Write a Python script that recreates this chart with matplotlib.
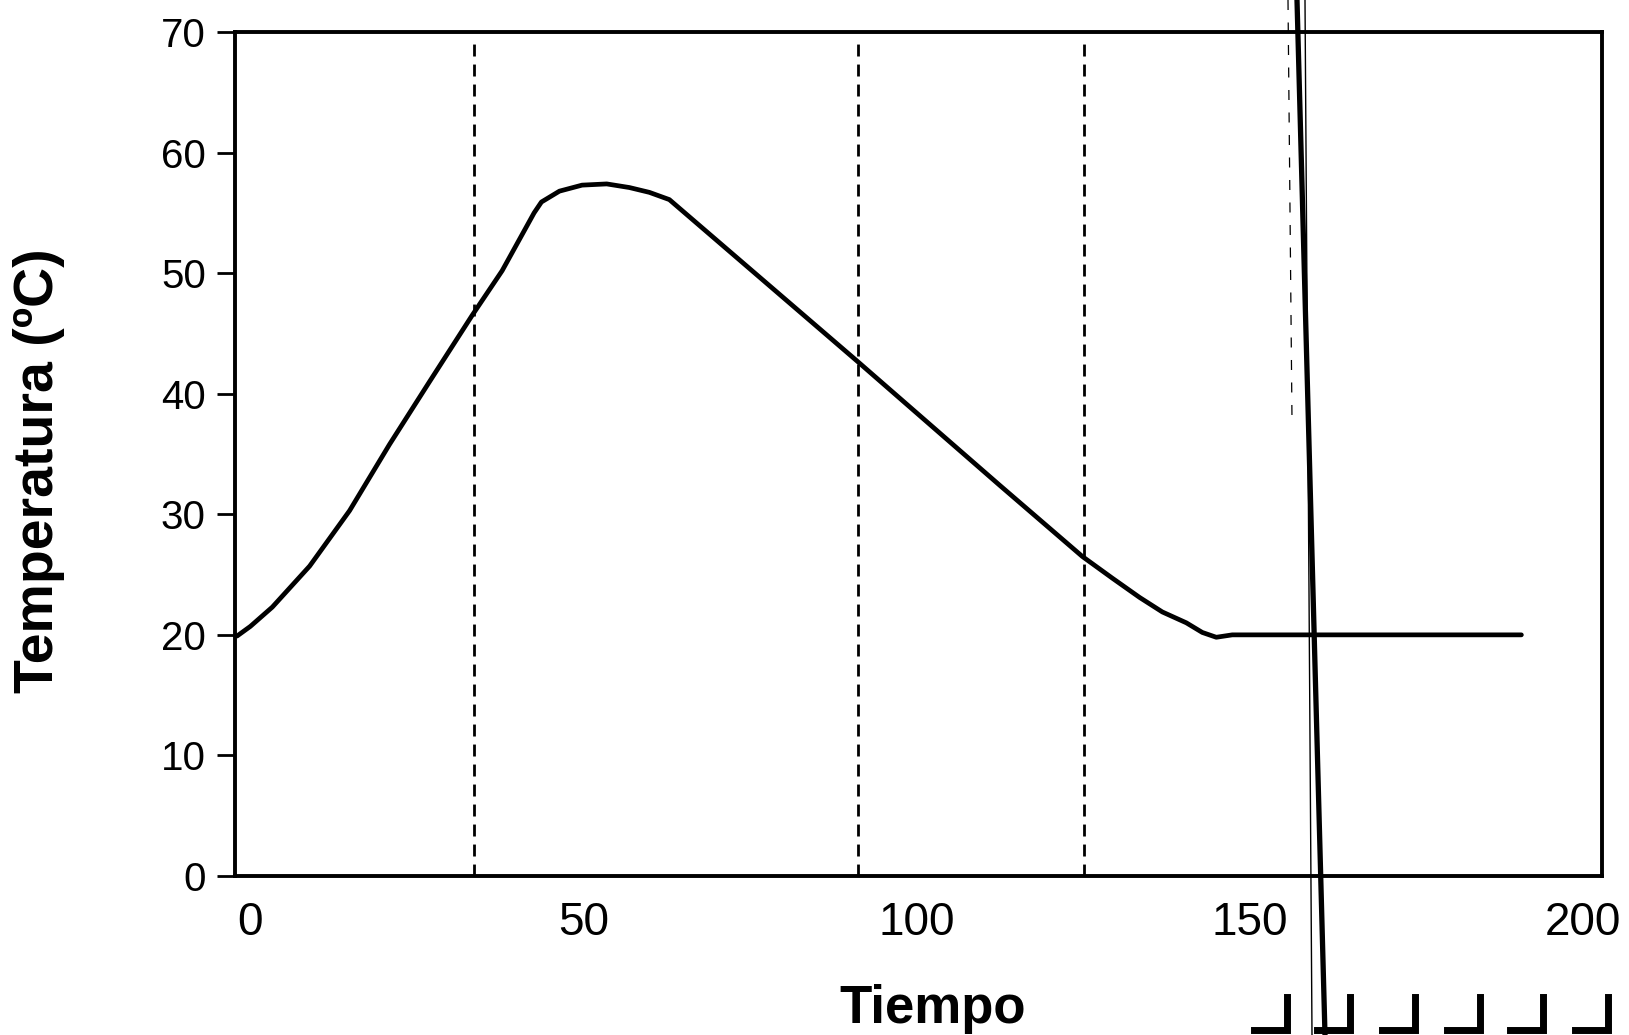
import matplotlib
matplotlib.use("Agg")
import matplotlib.pyplot as plt
from matplotlib.lines import Line2D

plt.rcParams['font.family'] = ['Liberation Sans', 'DejaVu Sans']

# Temperature profile over time
tiempo = [-2.0, 0.0, 3.3, 8.9, 14.9, 20.9, 26.9, 33.3, 37.8, 42.6, 43.7, 46.4,
          49.8, 53.5, 56.9, 59.9, 62.9, 91.1, 112.5, 124.9, 129.4, 133.5,
          136.9, 140.5, 142.9, 145.0, 147.4, 190.8]
temperatura = [19.9, 20.7, 22.3, 25.7, 30.3, 35.8, 41.0, 46.5, 50.2, 55.0, 55.9, 56.8,
               57.3, 57.4, 57.1, 56.7, 56.1, 42.7, 32.4, 26.5, 24.7, 23.1,
               21.9, 21.0, 20.2, 19.8, 20.0, 20.0]

# Phase boundaries (dashed)
fases = [33.6, 91.2, 125.1]

x_ticks = [0, 50, 100, 150, 200]
y_ticks = [0, 10, 20, 30, 40, 50, 60, 70]

W, H = 1629, 1035
fig = plt.figure(figsize=(W / 100, H / 100), dpi=100)
ax = fig.add_axes([235 / W, 1 - 876 / H, (1602 - 235) / W, (876 - 32) / H])

ax.plot(tiempo, temperatura, color='black', lw=3.4, solid_joinstyle='round',
        solid_capstyle='round')
ax.vlines(fases, 0, 69, colors='black', lw=2.0, linestyles=[(0, (4.3, 2.9))])

ax.set_xlim(-2.3, 202.9)
ax.set_ylim(0, 70)
ax.set_xticks(x_ticks)
ax.set_yticks(y_ticks)
ax.tick_params(axis='x', length=0, pad=18, labelsize=33)
ax.tick_params(axis='y', direction='out', length=13, width=2.0, pad=8, labelsize=29)
for s in ax.spines.values():
    s.set_linewidth(2.8)

fig.text(933 / W, 1 - 1023 / H, 'Tiempo', ha='center', va='baseline',
         fontsize=38, fontweight='bold')
fig.text(39 / W, 1 - 471 / H, 'Temperatura (\u00baC)', rotation=90, ha='center',
         va='center', fontsize=40, fontweight='bold')

# Scanner marks crossing the page
fig.add_artist(Line2D([1297 / W, 1325 / W], [1, 0], transform=fig.transFigure,
                      color='black', lw=3.8))
fig.add_artist(Line2D([1305 / W, 1312 / W], [1, 0], transform=fig.transFigure,
                      color='black', lw=1.0))
fig.add_artist(Line2D([1288 / W, 1292 / W], [1, 1 - 420 / H], transform=fig.transFigure,
                      color='black', lw=0.9, linestyle=(0, (8, 10))))

# Corner registration brackets at the bottom edge
esquinas = [1287, 1350, 1415, 1480, 1543, 1608]
for xr in esquinas:
    fig.add_artist(Line2D([(xr - 33) / W, xr / W, xr / W],
                          [1 - 1030 / H, 1 - 1030 / H, 1 - 997 / H],
                          transform=fig.transFigure, color='black', lw=5,
                          solid_joinstyle='miter'))

fig.savefig('out.png', dpi=100, facecolor='white')
